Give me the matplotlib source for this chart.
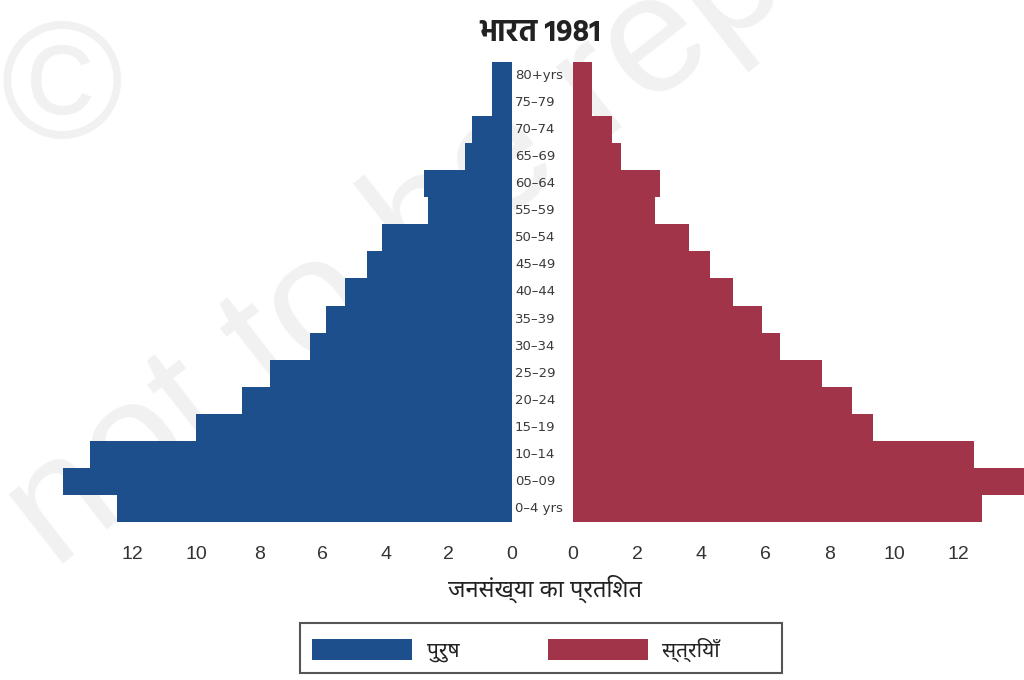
import matplotlib
matplotlib.use("Agg")
import matplotlib.pyplot as plt
import matplotlib.transforms as mtransforms
from matplotlib.patches import Patch, Rectangle

# age groups, bottom to top
age_groups = ['0–4 yrs', '05–09', '10–14', '15–19', '20–24', '25–29', '30–34', '35–39',
              '40–44', '45–49', '50–54', '55–59', '60–64', '65–69', '70–74', '75–79', '80+yrs']
# percent of population
male = [12.5, 14.2, 13.35, 10.0, 8.55, 7.65, 6.4, 5.9, 5.3, 4.6, 4.1, 2.65, 2.8, 1.5, 1.27, 0.63, 0.63]
female = [12.75, 14.2, 12.5, 9.35, 8.7, 7.75, 6.45, 5.9, 4.97, 4.27, 3.6, 2.55, 2.7, 1.5, 1.2, 0.6, 0.6]
ticks = [0, 2, 4, 6, 8, 10, 12]

blue = '#1d4f8c'
red = '#a2344a'
deva = 'Noto Sans Devanagari'
latin = ['Liberation Sans', 'DejaVu Sans']

W, H = 1024, 680
fig = plt.figure(figsize=(W / 100, H / 100), dpi=100)

# faint watermark behind everything
fig.text(-0.02, 0.12, 'not to be republished', rotation=38, fontsize=120, color='#f1f1f1',
         family=latin, ha='left', va='bottom', zorder=-5)
fig.text(0.06, 0.86, '©', fontsize=120, color='#f1f1f1', family=latin,
         ha='center', va='center', zorder=-5)

bottom = (H - 522) / H
height = (522 - 62) / H
ax_l = fig.add_axes([0, bottom, 512 / W, height])
ax_r = fig.add_axes([573 / W, bottom, (W - 573) / W, height])
for ax in (ax_l, ax_r):
    ax.patch.set_alpha(0)
    for s in ax.spines.values():
        s.set_visible(False)
    ax.set_ylim(-0.5, len(age_groups) - 0.5)
    ax.set_yticks([])
    ax.set_xticks(ticks)
    ax.tick_params(axis='x', length=0, pad=17, labelsize=14, labelcolor='#333333')
    for lab in ax.get_xticklabels():
        lab.set_family(latin)

y = list(range(len(age_groups)))
ax_l.barh(y, male, height=1.0, color=blue, linewidth=0)
ax_r.barh(y, female, height=1.0, color=red, linewidth=0)
ax_l.set_xlim(512 / 31.6, 0)
ax_r.set_xlim(0, (W - 573) / 32.1)

# age labels in the gap between the halves
tr = mtransforms.blended_transform_factory(fig.transFigure, ax_l.transData)
for yi, lab in zip(y, age_groups):
    fig.text(515 / W, yi, lab, transform=tr, ha='left', va='center', fontsize=9.5,
             color='#3a3a3a', family='DejaVu Sans')

fig.text(540 / W, (H - 33) / H, 'भारत 1981', ha='center', va='center', fontsize=22,
         fontweight='bold', color='#222222', family='Hind')
fig.text(545 / W, (H - 589) / H, 'जनसंख्या का प्रतिशत', ha='center', va='center',
         fontsize=17, color='#222222', family=deva)

handles = [Patch(facecolor=blue, edgecolor='none'), Patch(facecolor=red, edgecolor='none')]
leg = fig.legend(handles, ['पुरुष', 'स्त्रियाँ'], ncol=2, frameon=False, loc='center left',
                 bbox_to_anchor=(312 / W, (H - 650) / H), borderpad=0, borderaxespad=0,
                 handlelength=4.8, handleheight=1.2, handletextpad=0.7, columnspacing=4.25,
                 prop={'family': deva, 'size': 15})
for t in leg.get_texts():
    t.set_color('#222222')
fig.patches.append(Rectangle((300 / W, (H - 673) / H), 482 / W, 50 / H, transform=fig.transFigure,
                             fill=False, edgecolor='#555555', linewidth=1.5))

fig.savefig('out.png', dpi=100)
